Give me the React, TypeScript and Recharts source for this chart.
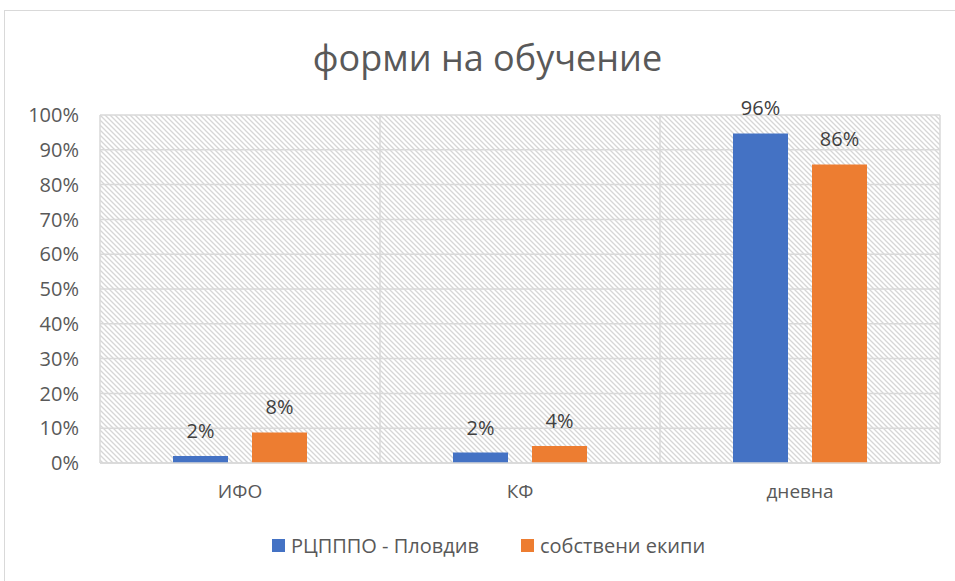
import React from "react";
import {
  BarChart,
  Bar,
  XAxis,
  YAxis,
  CartesianGrid,
  Legend,
  LabelList,
} from "recharts";

const categories = ["ИФО", "КФ", "дневна"];
const seriesNames = ["РЦПППО - Пловдив", "собствени екипи"];
// bar heights in %
const rcValues = [2, 3, 94.7];
const ownValues = [8.8, 4.9, 85.8];
// the data labels as printed on the chart
const rcLabels = ["2%", "2%", "96%"];
const ownLabels = ["8%", "4%", "86%"];
const yTicks = [0, 10, 20, 30, 40, 50, 60, 70, 80, 90, 100];

const colors = ["#4472C4", "#ED7D31"];
const textColor = "#595959";
const gridColor = "#d9d9d9";
const font = "'Open Sans', 'DejaVu Sans', sans-serif";

const data = categories.map((name, i) => ({
  name,
  rc: rcValues[i],
  own: ownValues[i],
  rcLabel: rcLabels[i],
  ownLabel: ownLabels[i],
}));

// vertical grid lines sit on the category boundaries, like Excel
const boundaryLines = ({ offset }: any) => {
  if (!offset) return [];
  const step = offset.width / categories.length;
  return [0, ...categories.map((_, i) => i + 1)].map((i) => offset.left + i * step);
};

const renderLegend = () => (
  <div
    style={{
      display: "flex",
      justifyContent: "center",
      gap: 42,
      fontFamily: font,
      fontSize: 20,
      color: textColor,
      paddingLeft: 22,
    }}
  >
    {seriesNames.map((n, i) => (
      <span key={n} style={{ display: "flex", alignItems: "center" }}>
        <span
          style={{
            width: 13,
            height: 13,
            background: colors[i],
            display: "inline-block",
            marginRight: 6,
          }}
        />
        {n}
      </span>
    ))}
  </div>
);

export default function App() {
  return (
    <div
      style={{
        position: "absolute",
        left: 0,
        top: 0,
        width: 955,
        height: 581,
        background: "#fff",
        overflow: "hidden",
      }}
    >
      <div
        style={{
          position: "absolute",
          left: 4,
          top: 10,
          width: 1000,
          height: 1000,
          border: "1px solid #d9d9d9",
        }}
      />
      <div
        style={{
          position: "absolute",
          top: 32,
          left: 0,
          width: 975,
          textAlign: "center",
          fontFamily: font,
          fontSize: 36,
          color: textColor,
          lineHeight: "52px",
        }}
      >
        форми на обучение
      </div>
      <BarChart
        width={955}
        height={581}
        data={data}
        margin={{ top: 115, right: 15, bottom: 48, left: 0 }}
        barCategoryGap={73}
        barGap={24}
        style={{ position: "absolute", left: 0, top: 0 }}
      >
        <defs>
          <pattern id="hatch" width="5" height="5" patternUnits="userSpaceOnUse">
            <rect width="5" height="5" fill="#fff" />
            <path
              d="M-1,4 l2,2 M0,0 l5,5 M4,-1 l2,2"
              stroke="#d6d6d6"
              strokeWidth={1.3}
            />
          </pattern>
        </defs>
        <CartesianGrid
          stroke={gridColor}
          strokeWidth={1.5}
          fill="url(#hatch)"
          fillOpacity={1}
          verticalCoordinatesGenerator={boundaryLines}
        />
        <XAxis
          dataKey="name"
          tickLine={false}
          axisLine={{ stroke: gridColor, strokeWidth: 1.5 }}
          tickMargin={16}
          height={30}
          tick={{ fill: textColor, fontSize: 19, fontFamily: font }}
        />
        <YAxis
          width={100}
          domain={[0, 100]}
          ticks={yTicks}
          tickFormatter={(v) => `${v}%`}
          axisLine={false}
          tickLine={false}
          tickMargin={15}
          tick={{ fill: textColor, fontSize: 20, fontFamily: font }}
        />
        <Legend height={40} content={renderLegend} wrapperStyle={{ top: 532, left: 0, width: 955 }} />
        <Bar dataKey="rc" name={seriesNames[0]} fill={colors[0]} isAnimationActive={false}>
          <LabelList
            dataKey="rcLabel"
            position="top"
            offset={18}
            fill="#404040"
            fontSize={20}
            fontFamily={font}
          />
        </Bar>
        <Bar dataKey="own" name={seriesNames[1]} fill={colors[1]} isAnimationActive={false}>
          <LabelList
            dataKey="ownLabel"
            position="top"
            offset={18}
            fill="#404040"
            fontSize={20}
            fontFamily={font}
          />
        </Bar>
      </BarChart>
    </div>
  );
}
